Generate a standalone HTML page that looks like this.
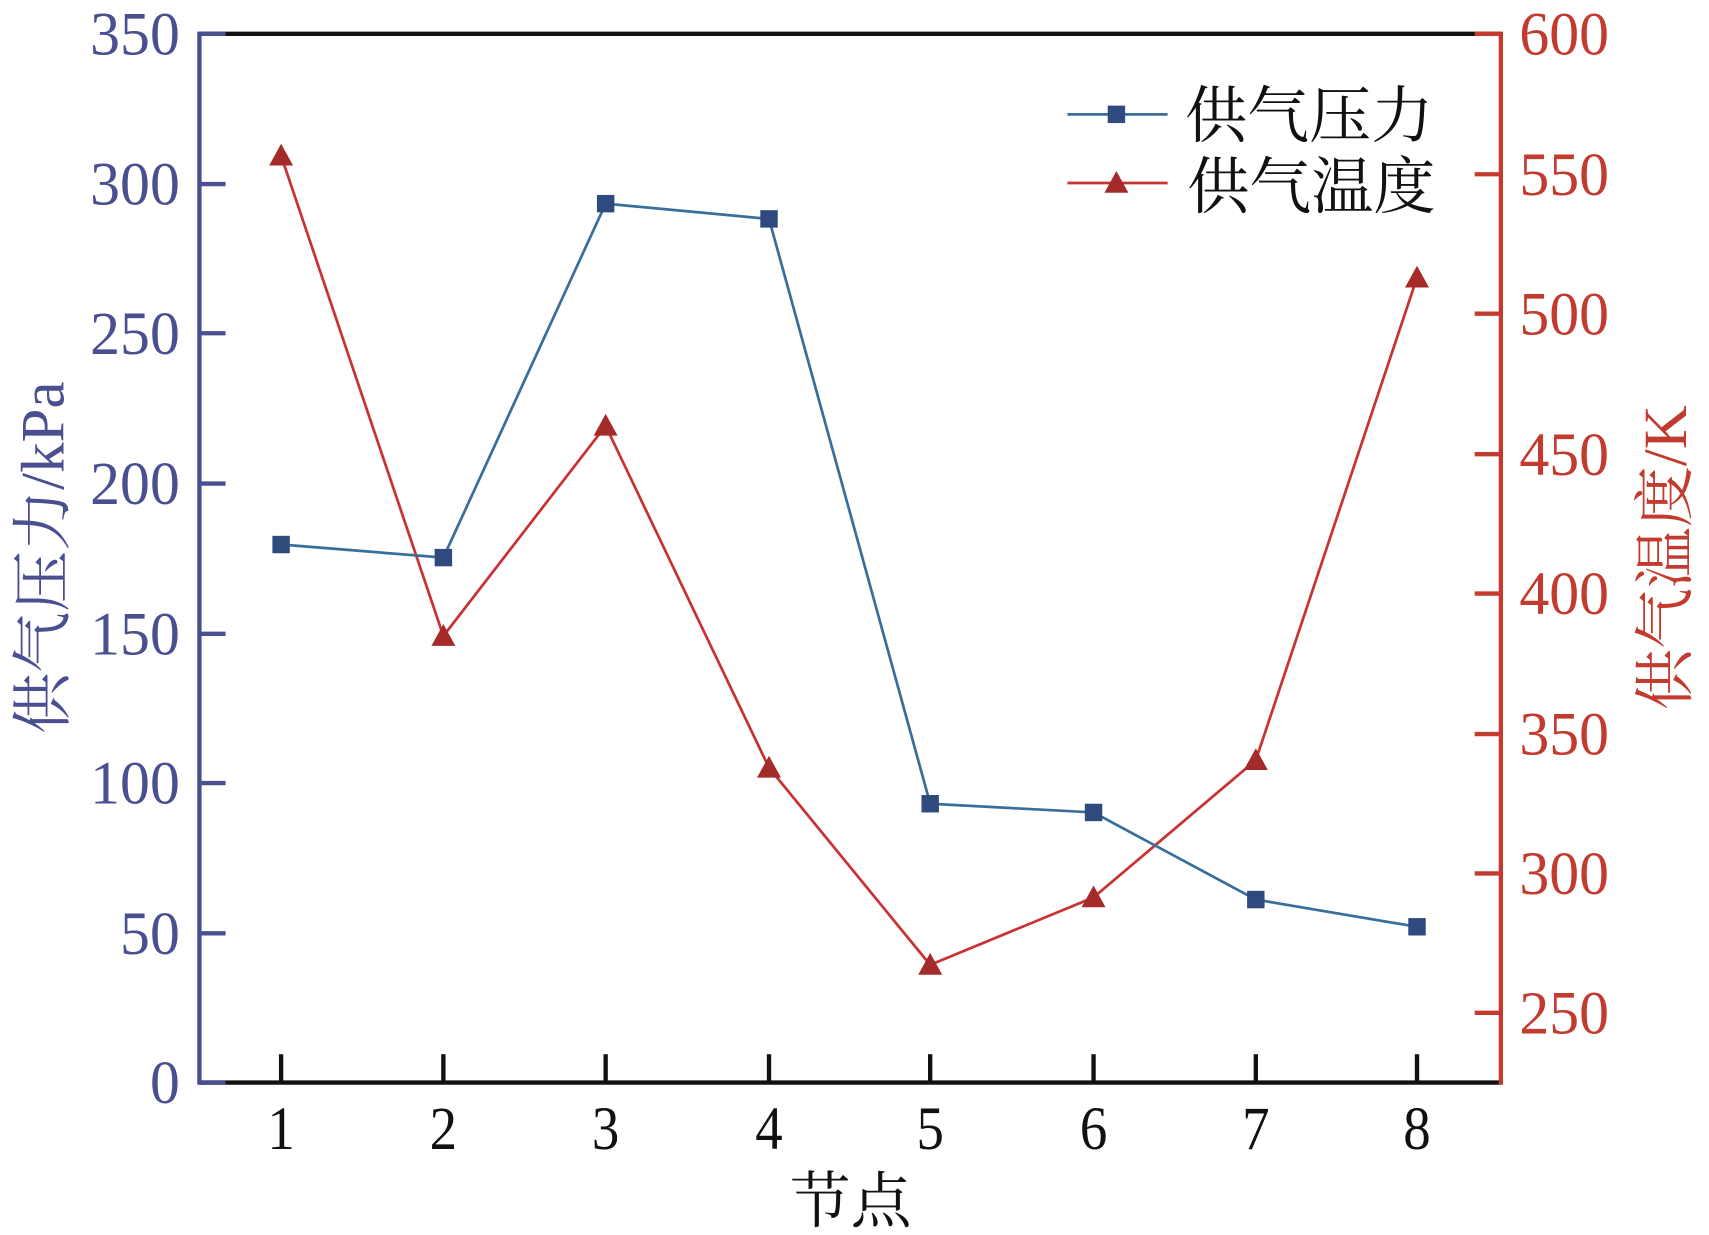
<!DOCTYPE html>
<html><head><meta charset="utf-8"><style>html,body{margin:0;padding:0;background:#fff;}svg{display:block}</style></head>
<body>
<svg width="1709" height="1235" viewBox="0 0 1569 1134" xmlns="http://www.w3.org/2000/svg">
<g font-family="Liberation Serif, Noto Serif CJK SC, serif">
<line x1="183" y1="31" x2="1378" y2="31" stroke="#111" stroke-width="4"/>
<line x1="183" y1="994" x2="1378" y2="994" stroke="#111" stroke-width="4"/>
<line x1="183" y1="29" x2="183" y2="996" stroke="#4a4f90" stroke-width="4"/>
<line x1="1378" y1="29" x2="1378" y2="996" stroke="#c23b2e" stroke-width="4"/>
<g stroke="#4a4f90" stroke-width="4">
<line x1="183" y1="31" x2="207" y2="31"/><line x1="183" y1="169" x2="207" y2="169"/>
<line x1="183" y1="306" x2="207" y2="306"/><line x1="183" y1="444" x2="207" y2="444"/>
<line x1="183" y1="582" x2="207" y2="582"/><line x1="183" y1="719" x2="207" y2="719"/>
<line x1="183" y1="857" x2="207" y2="857"/><line x1="183" y1="994" x2="207" y2="994"/>
</g>
<g fill="#4a4f90" font-size="56" text-anchor="end" transform="translate(165,0) scale(0.98,1)">
<text x="0" y="50">350</text><text x="0" y="188">300</text><text x="0" y="325">250</text>
<text x="0" y="463">200</text><text x="0" y="601">150</text><text x="0" y="738">100</text>
<text x="0" y="876">50</text><text x="0" y="1013">0</text>
</g>
<g stroke="#c23b2e" stroke-width="4">
<line x1="1354" y1="31" x2="1378" y2="31"/><line x1="1354" y1="160" x2="1378" y2="160"/>
<line x1="1354" y1="288" x2="1378" y2="288"/><line x1="1354" y1="417" x2="1378" y2="417"/>
<line x1="1354" y1="545" x2="1378" y2="545"/><line x1="1354" y1="674" x2="1378" y2="674"/>
<line x1="1354" y1="802" x2="1378" y2="802"/><line x1="1354" y1="930" x2="1378" y2="930"/>
</g>
<g fill="#c23b2e" font-size="56" transform="translate(1395,0) scale(0.98,1)">
<text x="0" y="50">600</text><text x="0" y="179">550</text><text x="0" y="307">500</text>
<text x="0" y="436">450</text><text x="0" y="564">400</text><text x="0" y="693">350</text>
<text x="0" y="821">300</text><text x="0" y="949">250</text>
</g>
<g stroke="#111" stroke-width="4">
<line x1="258" y1="968" x2="258" y2="994"/><line x1="407" y1="968" x2="407" y2="994"/>
<line x1="556" y1="968" x2="556" y2="994"/><line x1="706" y1="968" x2="706" y2="994"/>
<line x1="854" y1="968" x2="854" y2="994"/><line x1="1004" y1="968" x2="1004" y2="994"/>
<line x1="1153" y1="968" x2="1153" y2="994"/><line x1="1301" y1="968" x2="1301" y2="994"/>
</g>
<g fill="#111" font-size="56" text-anchor="middle">
<text transform="translate(258,1055) scale(0.9,1)">1</text><text transform="translate(407,1055) scale(0.9,1)">2</text>
<text transform="translate(556,1055) scale(0.9,1)">3</text><text transform="translate(706,1055) scale(0.9,1)">4</text>
<text transform="translate(854,1055) scale(0.9,1)">5</text><text transform="translate(1004,1055) scale(0.9,1)">6</text>
<text transform="translate(1153,1055) scale(0.9,1)">7</text><text transform="translate(1301,1055) scale(0.9,1)">8</text>
<text x="781" y="1122" font-size="56">节点</text>
</g>
<text transform="translate(58,512) rotate(-90)" text-anchor="middle" fill="#4a4f90" font-size="56">供气压力/kPa</text>
<text transform="translate(1548,512) rotate(-90)" text-anchor="middle" fill="#c23b2e" font-size="56">供气温度/K</text>
<polyline fill="none" stroke="#c83232" stroke-width="2.5" points="258,143 407,584 556,391 706,705 854,886 1004,824 1153,698 1301,255"/>
<g fill="#a52a2a">
<polygon points="258,132 247,152 269,152"/><polygon points="407,573 396,593 418,593"/>
<polygon points="556,380 545,400 567,400"/><polygon points="706,694 695,714 717,714"/>
<polygon points="854,875 843,895 865,895"/><polygon points="1004,813 993,833 1015,833"/>
<polygon points="1153,687 1142,707 1164,707"/><polygon points="1301,244 1290,264 1312,264"/>
</g>
<polyline fill="none" stroke="#3a6e9a" stroke-width="2.5" points="258,500 407,512 556,187 706,201 854,738 1004,746 1153,826 1301,851"/>
<g fill="#2f4a7e">
<rect x="250" y="492" width="16" height="16"/><rect x="399" y="504" width="16" height="16"/>
<rect x="548" y="179" width="16" height="16"/><rect x="698" y="193" width="16" height="16"/>
<rect x="846" y="730" width="16" height="16"/><rect x="996" y="738" width="16" height="16"/>
<rect x="1145" y="818" width="16" height="16"/><rect x="1293" y="843" width="16" height="16"/>
</g>
<line x1="980" y1="105" x2="1072" y2="105" stroke="#3a6e9a" stroke-width="2.5"/>
<rect x="1017" y="97" width="16" height="16" fill="#2f4a7e"/>
<text x="1088" y="126" font-size="57" fill="#111">供气压力</text>
<line x1="980" y1="168" x2="1072" y2="168" stroke="#c83232" stroke-width="2.5"/>
<polygon points="1025,157 1014,177 1036,177" fill="#a52a2a"/>
<text x="1090" y="191" font-size="57" fill="#111">供气温度</text>
</g>
</svg>
</body></html>
